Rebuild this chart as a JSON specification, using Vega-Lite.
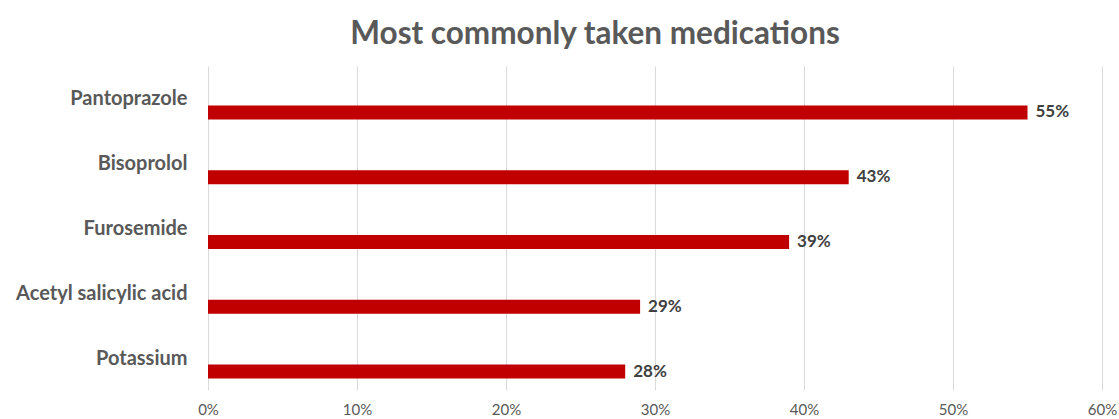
{
  "$schema": "https://vega.github.io/schema/vega-lite/v6.json",
  "width": 894,
  "height": 324,
  "autosize": "none",
  "padding": {"left": 208, "top": 66, "right": 17, "bottom": 29},
  "background": "white",
  "title": {
    "text": "Most commonly taken medications",
    "font": "Lato",
    "fontSize": 31.5,
    "fontWeight": "bold",
    "color": "#595959",
    "anchor": "middle",
    "frame": "group",
    "dx": -60,
    "offset": 16
  },
  "data": {
    "values": [
      {"medication": "Pantoprazole", "share": 0.55},
      {"medication": "Bisoprolol", "share": 0.43},
      {"medication": "Furosemide", "share": 0.39},
      {"medication": "Acetyl salicylic acid", "share": 0.29},
      {"medication": "Potassium", "share": 0.28}
    ]
  },
  "config": {
    "view": {"stroke": null},
    "font": "Lato"
  },
  "encoding": {
    "y": {
      "field": "medication",
      "type": "nominal",
      "sort": null,
      "scale": {"paddingInner": 0, "paddingOuter": 0},
      "axis": {
        "title": null,
        "domain": false,
        "ticks": false,
        "labelFont": "Lato",
        "labelFontSize": 20,
        "labelFontWeight": "bold",
        "labelColor": "#595959",
        "labelPadding": 21,
        "labelOffset": 1
      }
    },
    "x": {
      "field": "share",
      "type": "quantitative",
      "scale": {"domain": [0, 0.6], "nice": false},
      "axis": {
        "title": null,
        "format": ".0%",
        "values": [0, 0.1, 0.2, 0.3, 0.4, 0.5, 0.6],
        "domain": false,
        "ticks": false,
        "grid": true,
        "gridColor": "#d9d9d9",
        "gridWidth": 1,
        "labelFlush": false,
        "labelOverlap": false,
        "labelFont": "Lato",
        "labelFontSize": 15,
        "labelColor": "#595959",
        "labelPadding": 12
      }
    }
  },
  "layer": [
    {
      "mark": {"type": "bar", "color": "#c00000", "height": 14, "yOffset": 14}
    },
    {
      "mark": {
        "type": "text",
        "align": "left",
        "baseline": "middle",
        "dx": 8,
        "yOffset": 14,
        "font": "Lato",
        "fontSize": 17,
        "fontWeight": "bold",
        "color": "#404040"
      },
      "encoding": {
        "text": {"field": "share", "type": "quantitative", "format": ".0%"}
      }
    }
  ]
}
